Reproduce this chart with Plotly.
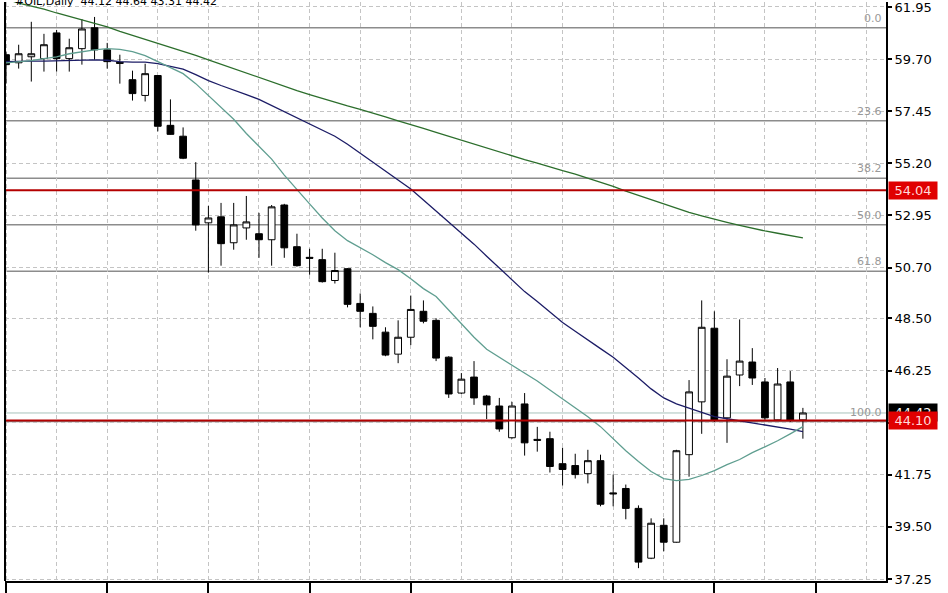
import plotly.graph_objects as go

# ---------------- data ----------------
bar_index = list(range(64))
opens = [59.89, 59.54, 59.80, 59.72, 60.83, 59.72, 60.15, 61.05, 60.10, 59.56,
         58.81, 58.13, 58.99, 56.84, 56.37, 54.48, 52.63, 52.89, 51.77, 52.41,
         52.16, 51.90, 53.40, 51.60, 51.14, 51.04, 50.14, 50.65, 49.15, 48.72,
         47.91, 46.96, 47.69, 48.81, 48.42, 46.83, 45.28, 45.97, 45.15, 44.72,
         43.35, 44.81, 43.28, 43.31, 42.23, 42.15, 41.80, 42.36, 40.97, 41.16,
         40.30, 38.15, 39.57, 38.84, 42.62, 44.90, 48.08, 44.21, 46.06, 46.62,
         45.76, 44.12, 45.76, 44.12]
highs = [60.00, 60.32, 61.31, 60.79, 60.96, 60.58, 61.43, 61.52, 60.40, 59.89,
         59.20, 59.50, 59.00, 57.96, 56.75, 55.25, 53.36, 53.49, 53.49, 53.79,
         53.06, 53.40, 53.45, 52.16, 51.51, 51.51, 51.34, 50.68, 49.58, 49.02,
         48.12, 48.42, 49.49, 49.28, 48.51, 46.87, 46.14, 46.66, 45.20, 45.07,
         44.90, 45.28, 43.82, 43.61, 42.92, 42.66, 42.83, 42.62, 41.76, 41.33,
         40.43, 39.87, 39.87, 42.83, 45.84, 49.28, 48.81, 46.74, 48.46, 47.22,
         45.93, 46.36, 46.23, 44.64]
lows = [58.64, 59.29, 58.73, 59.16, 59.16, 59.16, 59.46, 59.67, 59.29, 58.64,
        57.91, 57.87, 56.58, 56.43, 55.38, 52.29, 50.48, 50.78, 51.47, 51.90,
        51.12, 50.78, 51.12, 50.74, 50.39, 50.05, 50.01, 48.98, 48.12, 47.60,
        46.87, 46.57, 47.35, 48.29, 46.66, 45.07, 45.24, 44.77, 44.16, 43.61,
        43.31, 42.58, 42.75, 41.85, 41.29, 41.59, 41.38, 40.39, 40.39, 39.83,
        37.72, 38.11, 38.45, 38.82, 41.67, 43.52, 44.03, 43.13, 45.58, 45.63,
        44.12, 44.10, 44.03, 43.31]
closes = [59.46, 59.93, 59.93, 60.32, 59.72, 60.19, 61.00, 60.10, 59.59, 59.52,
          58.21, 59.07, 56.80, 56.45, 55.42, 52.54, 52.84, 51.73, 52.54, 52.67,
          51.90, 53.32, 51.55, 50.78, 51.10, 50.09, 50.57, 49.11, 48.81, 48.16,
          46.92, 47.69, 48.89, 48.38, 46.79, 45.24, 45.88, 45.07, 44.77, 43.73,
          44.72, 43.13, 43.24, 42.11, 41.98, 41.76, 42.36, 40.48, 40.93, 40.30,
          37.98, 39.66, 38.84, 42.79, 45.33, 48.12, 44.12, 46.01, 46.66, 45.93,
          44.21, 45.67, 44.12, 44.42]

ma_long = [62.29, 62.12, 61.99, 61.86, 61.69, 61.54, 61.39, 61.24, 61.09, 60.90,
           60.73, 60.55, 60.38, 60.21, 60.04, 59.86, 59.67, 59.48, 59.28, 59.07,
           58.90, 58.70, 58.51, 58.34, 58.17, 58.00, 57.85, 57.68, 57.53, 57.35,
           57.20, 57.03, 56.88, 56.71, 56.54, 56.37, 56.19, 56.02, 55.85, 55.68,
           55.51, 55.36, 55.21, 55.03, 54.88, 54.73, 54.56, 54.39, 54.20, 54.00,
           53.81, 53.62, 53.44, 53.25, 53.08, 52.93, 52.78, 52.65, 52.52, 52.39,
           52.28, 52.18, 52.07, 51.98]
ma_mid = [59.59, 59.61, 59.61, 59.61, 59.63, 59.63, 59.65, 59.67, 59.65, 59.59,
          59.57, 59.57, 59.50, 59.39, 59.27, 59.03, 58.77, 58.56, 58.38, 58.17,
          57.96, 57.70, 57.44, 57.16, 56.90, 56.65, 56.37, 56.02, 55.64, 55.25,
          54.86, 54.47, 54.09, 53.62, 53.14, 52.67, 52.20, 51.71, 51.19, 50.67,
          50.14, 49.66, 49.23, 48.76, 48.33, 47.95, 47.56, 47.20, 46.83, 46.40,
          45.93, 45.46, 45.07, 44.81, 44.62, 44.43, 44.26, 44.17, 44.08, 44.02,
          43.91, 43.83, 43.72, 43.61]
ma_fast = [59.54, 59.59, 59.63, 59.72, 59.80, 59.93, 60.02, 60.10, 60.15, 60.12,
           60.02, 59.85, 59.59, 59.33, 59.07, 58.64, 58.13, 57.61, 57.10, 56.49,
           55.94, 55.38, 54.69, 54.05, 53.45, 52.84, 52.29, 51.86, 51.56, 51.25,
           50.91, 50.61, 50.22, 49.79, 49.45, 48.85, 48.29, 47.69, 47.17, 46.83,
           46.49, 46.14, 45.80, 45.41, 45.03, 44.64, 44.26, 43.83, 43.31, 42.79,
           42.32, 41.89, 41.59, 41.50, 41.55, 41.72, 41.93, 42.19, 42.41, 42.71,
           42.96, 43.22, 43.52, 43.83]

fib_levels = [0.0, 23.6, 38.2, 50.0, 61.8, 100.0]
fib_top = 61.05
fib_bottom = 44.05
red_levels = [54.04, 44.10]
bid_price = 44.42
price_ticks = [37.25, 39.50, 41.75, 44.00, 46.25, 48.50, 50.70, 52.95, 55.20, 57.45, 59.70, 61.95]
price_tick_text = ["37.25", "39.50", "41.75", "44.00", "46.25", "48.50", "50.70", "52.95",
                   "55.20", "57.45", "59.70", "61.95"]
title_text = "#OIL,Daily  44.12 44.64 43.31 44.42"

# ---------------- figure ----------------
fig = go.Figure()

fig.add_trace(go.Candlestick(
    x=bar_index, open=opens, high=highs, low=lows, close=closes,
    increasing=dict(line=dict(color="black", width=1), fillcolor="white"),
    decreasing=dict(line=dict(color="black", width=1), fillcolor="black"),
    whiskerwidth=0, hoverinfo="skip", showlegend=False,
))

for vals, col in [(ma_long, "#2c6e2c"), (ma_mid, "#1c1c66"), (ma_fast, "#5f9e90")]:
    fig.add_trace(go.Scatter(x=bar_index, y=vals, mode="lines",
                             line=dict(color=col, width=1.3),
                             hoverinfo="skip", showlegend=False))

shapes = []
annotations = []
grey = "#8c8c8c"
for lvl in fib_levels:
    price = fib_top - lvl / 100.0 * (fib_top - fib_bottom)
    shapes.append(dict(type="line", xref="paper", yref="y", x0=0, x1=1, y0=price, y1=price,
                       line=dict(color=grey, width=1.5), layer="below"))
    annotations.append(dict(xref="paper", yref="y", x=1, y=price, xanchor="right", yanchor="bottom",
                            xshift=-2, yshift=1, text=f"{lvl:.1f}", showarrow=False,
                            font=dict(family="DejaVu Sans", size=11, color="#999999")))

# bid line
shapes.append(dict(type="line", xref="paper", yref="y", x0=0, x1=1, y0=bid_price, y1=bid_price,
                   line=dict(color="#a9c2bb", width=1), layer="below"))

for p in red_levels:
    shapes.append(dict(type="line", xref="paper", yref="y", x0=0, x1=1, y0=p, y1=p,
                       line=dict(color="#b40000", width=2), layer="above"))

# left frame line
shapes.append(dict(type="line", xref="paper", yref="paper", x0=0, x1=0, y0=0, y1=1,
                   line=dict(color="black", width=2)))

# price labels on the axis
annotations.append(dict(xref="paper", yref="y", x=1, y=bid_price, xanchor="left", yanchor="middle",
                        xshift=2, text=f"{bid_price:.2f}", showarrow=False, bgcolor="black",
                        width=46, height=15, borderpad=1,
                        font=dict(family="DejaVu Sans", size=13, color="white")))
for p in red_levels:
    annotations.append(dict(xref="paper", yref="y", x=1, y=p, xanchor="left", yanchor="middle",
                            xshift=2, text=f"{p:.2f}", showarrow=False, bgcolor="#e00000",
                            width=46, height=15, borderpad=1,
                            font=dict(family="DejaVu Sans", size=13, color="#ffd8d8")))

annotations.append(dict(xref="paper", yref="paper", x=0, y=1, xanchor="left", yanchor="bottom",
                        xshift=8, yshift=-8, text=title_text, showarrow=False,
                        font=dict(family="DejaVu Sans", size=11, color="black")))

fig.update_layout(
    width=948, height=593,
    margin=dict(l=5, r=62, t=0, b=11),
    paper_bgcolor="white", plot_bgcolor="white",
    boxgap=0.27, boxgroupgap=0.27,
    shapes=shapes, annotations=annotations,
    showlegend=False,
    xaxis=dict(
        range=[-0.08, 69.57], rangeslider=dict(visible=False),
        tickmode="linear", tick0=0, dtick=8,
        showgrid=True, gridcolor="#c4c4c4", griddash="4px,3px", gridwidth=1,
        minor=dict(dtick=4, tick0=0, showgrid=True, gridcolor="#c4c4c4", griddash="4px,3px", ticks=""),
        showticklabels=False, ticks="outside", ticklen=12, tickwidth=1.5, tickcolor="black",
        showline=True, linecolor="black", linewidth=2, zeroline=False, fixedrange=True,
    ),
    yaxis=dict(
        range=[37.165, 62.165], side="right",
        tickvals=price_ticks, ticktext=price_tick_text, ticklabeloverflow="allow",
        showgrid=True, gridcolor="#c4c4c4", griddash="4px,3px", gridwidth=1,
        ticks="outside", ticklen=4, tickcolor="black", tickwidth=1.5,
        tickfont=dict(family="DejaVu Sans", size=13, color="black"),
        showline=True, linecolor="black", linewidth=2, zeroline=False,
    ),
)

fig.write_html("out.html", config={"displayModeBar": False},
               post_script="document.body.style.margin='0px';document.body.style.overflow='hidden';")
